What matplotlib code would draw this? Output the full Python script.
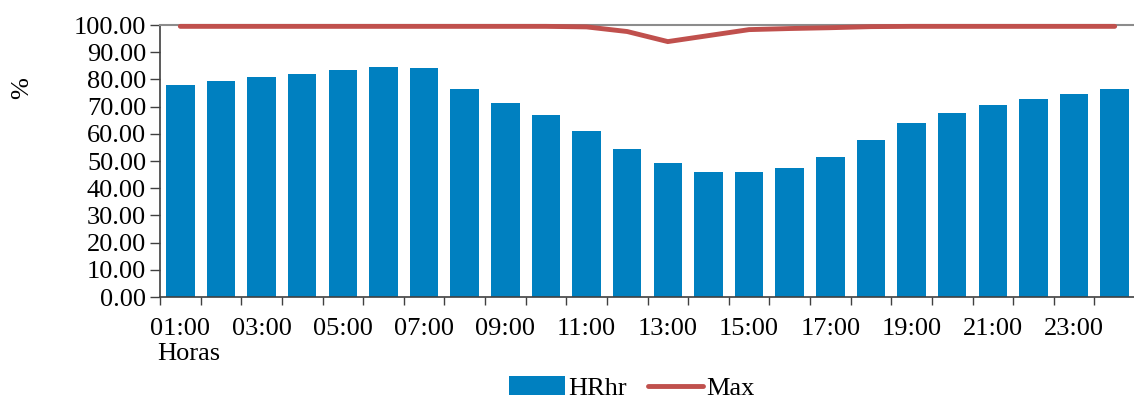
import matplotlib
matplotlib.use("Agg")
import matplotlib.pyplot as plt
import numpy as np

plt.rcParams["font.family"] = ["Liberation Serif", "DejaVu Serif"]

horas = [f"{h:02d}:00" for h in range(1, 25)]
hrhr = [77.9, 79.4, 80.8, 82.0, 83.3, 84.4, 84.1, 76.6, 71.4, 66.9, 61.0, 54.4,
        49.2, 46.1, 45.8, 47.3, 51.4, 57.8, 64.0, 67.5, 70.5, 72.7, 74.8, 76.5]
hr_max = [99.5, 99.5, 99.5, 99.5, 99.5, 99.5, 99.5, 99.5, 99.5, 99.5, 99.3, 97.6,
          93.9, 96.1, 98.3, 98.7, 99.0, 99.4, 99.5, 99.5, 99.5, 99.5, 99.5, 99.5]
yticks = np.arange(0, 101, 10)

fs = 19
fig = plt.figure(figsize=(11.34, 4.0), dpi=100)
ax = fig.add_axes([160 / 1134, 1 - 297 / 400, 975 / 1134, 272 / 400])

x = np.arange(len(horas))
bars = ax.bar(x, hrhr, width=0.7, color="#0080c0", label="HRhr", zorder=2)
line, = ax.plot(x, hr_max, color="#c0504d", lw=3.5, solid_capstyle="round",
                solid_joinstyle="miter", label="Max", zorder=3, clip_on=False)

ax.set_xlim(-0.5, len(horas) - 0.5)
ax.set_ylim(0, 100)
ax.set_yticks(yticks)
ax.set_yticklabels([f"{v:.2f}" for v in yticks], fontsize=fs)
ax.tick_params(axis="y", direction="out", length=7, width=1, color="#404040", pad=3)

# tick marks sit on category boundaries, labels on every other category
ax.set_xticks(np.arange(-0.5, len(horas), 1))
ax.set_xticklabels([])
ax.tick_params(axis="x", which="major", direction="out", length=6, width=1, color="#404040")
ax.set_xticks(x[::2], minor=True)
ax.set_xticklabels(horas[::2], minor=True, fontsize=fs)
ax.tick_params(axis="x", which="minor", length=0, pad=15)

for s in ("left", "bottom"):
    ax.spines[s].set_color("#404040")
    ax.spines[s].set_linewidth(1.2)
ax.spines["top"].set_color("#8c8c8c")
ax.spines["top"].set_linewidth(1.5)
ax.spines["right"].set_visible(False)

fig.text(157 / 1134, 1 - 354 / 400, "Horas", fontsize=fs, va="center", ha="left")
fig.text(22 / 1134, 1 - 88 / 400, "%", fontsize=fs, rotation=90, va="center", ha="center")

fig.legend([bars, line], ["HRhr", "Max"], loc="center",
           bbox_to_anchor=(632 / 1134, 1 - 388 / 400), ncol=2,
           frameon=False, fontsize=fs, handlelength=2.1, handleheight=0.7,
           handletextpad=0.12, columnspacing=0.8, borderpad=0)

fig.savefig("out.png", dpi=100)
